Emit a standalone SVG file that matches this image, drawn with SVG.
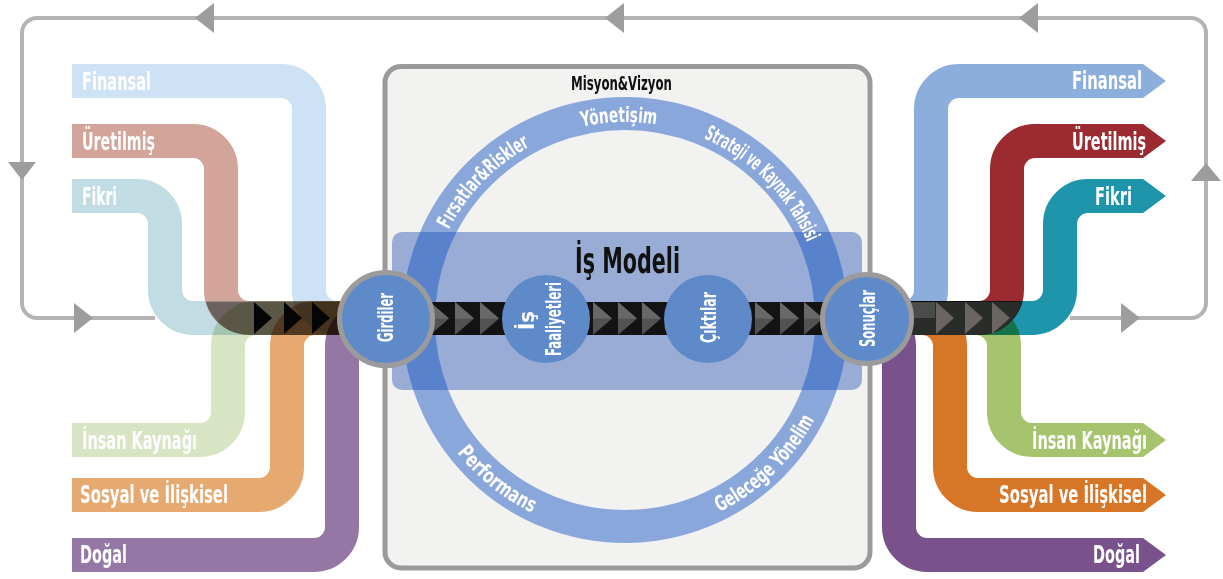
<svg xmlns="http://www.w3.org/2000/svg" xmlns:xlink="http://www.w3.org/1999/xlink" width="1223" height="579" viewBox="0 0 1223 579">
  <style>
    text { font-family: 'Liberation Sans Narrow', 'DejaVu Sans Condensed', 'Liberation Sans', sans-serif; font-weight: bold; }
    .lbl { fill: #ffffff; font-size: 25px; }
    .end { text-anchor: end; }
    .band { fill: none; stroke-width: 34; }
    .mult { mix-blend-mode: multiply; }
    .loop { fill: none; stroke: #b4b4b4; stroke-width: 4; }
    .head { fill: #9d9d9d; }
    .ringtxt { fill: #ffffff; font-size: 21px; text-anchor: middle; }
    .node { fill: #5e8ac9; }
    .ringed { stroke: #9b9b9b; stroke-width: 5; }
    .ntxt { fill: #ffffff; font-size: 22px; text-anchor: middle; }
    .dark { fill: #111111; text-anchor: middle; }
  </style>
  <defs>
    <!-- baselines for the lettering on the big ring -->
    <path id="arcTop" d="M427,320 A198,198 0 0 1 823,320"/>
    <path id="arcBot" d="M411,320 A214,214 0 0 0 839,320"/>
    <!-- flow chevrons -->
    <g id="chevGray">
      <polygon points="0,0 19,16.5 0,33" fill="#525252"/>
      <polygon points="0,0 19,16.5 0,16.5" fill="#686868"/>
    </g>
    <polygon id="chevBlack" points="0,0 18,16 0,32" fill="#050505"/>
    <polygon id="chevOut" points="0,0 18,16 0,32" fill="#6a6560"/>
  </defs>

  <rect width="1223" height="579" fill="#ffffff"/>

  <!-- feedback loop from outcomes back to inputs -->
  <g id="connectors">
    <path class="loop" d="M1070,318 H1191 A15,15 0 0 0 1206,303 V33 A15,15 0 0 0 1191,18 H37 A15,15 0 0 0 22,33 V303 A15,15 0 0 0 37,318 H155"/>
    <polygon class="head" points="195,18 214,3 214,33"/>
    <polygon class="head" points="605,18 624,3 624,33"/>
    <polygon class="head" points="1019,18 1038,3 1038,33"/>
    <polygon class="head" points="22,180 8,162 36,162"/>
    <polygon class="head" points="93,318 74,303 74,333"/>
    <polygon class="head" points="1206,163 1191,181 1221,181"/>
    <polygon class="head" points="1140,318 1121,303 1121,333"/>
  </g>

  <!-- input capitals -->
  <g id="in-finansal">
    <path class="band mult" stroke="#cde2f5" d="M72,81 H281 A28,28 0 0 1 309,109 V290 A28,28 0 0 0 337,318 H352"/>
    <text class="lbl" x="82" y="89.5" textLength="69" lengthAdjust="spacingAndGlyphs">Finansal</text>
  </g>
  <g id="in-uretilmis">
    <path class="band mult" stroke="#d3a59a" d="M72,141 H193 A28,28 0 0 1 221,169 V290 A28,28 0 0 0 249,318 H352"/>
    <text class="lbl" x="82" y="150" textLength="73" lengthAdjust="spacingAndGlyphs">Üretilmiş</text>
  </g>
  <g id="in-fikri">
    <path class="band mult" stroke="#c1dde3" d="M72,196 H137 A28,28 0 0 1 165,224 V290 A28,28 0 0 0 193,318 H352"/>
    <text class="lbl" x="82" y="205" textLength="35" lengthAdjust="spacingAndGlyphs">Fikri</text>
  </g>
  <g id="in-insan">
    <path class="band mult" stroke="#d8e5c4" d="M72,440 H200 A28,28 0 0 0 228,412 V346 A28,28 0 0 1 256,318 H352"/>
    <text class="lbl" x="82" y="448.5" textLength="115" lengthAdjust="spacingAndGlyphs">İnsan Kaynağı</text>
  </g>
  <g id="in-sosyal">
    <path class="band mult" stroke="#e6a970" d="M72,495 H259 A28,28 0 0 0 287,467 V346 A28,28 0 0 1 315,318 H352"/>
    <text class="lbl" x="80" y="503" textLength="148" lengthAdjust="spacingAndGlyphs">Sosyal ve İlişkisel</text>
  </g>
  <g id="in-dogal">
    <path class="band mult" stroke="#9577a5" d="M72,555 H314 A28,28 0 0 0 342,527 V346 A28,28 0 0 1 370,318 H380"/>
    <text class="lbl" x="80" y="563" textLength="47" lengthAdjust="spacingAndGlyphs">Doğal</text>
  </g>

  <!-- merged input stream -->
  <g id="input-stream">
    <path d="M206,302 H352 V335 H249 A45,45 0 0 1 206,302 Z" fill="#000000" fill-opacity="0.32"/>
    <use xlink:href="#chevBlack" x="254" y="302"/>
    <use xlink:href="#chevBlack" x="284" y="302"/>
    <use xlink:href="#chevBlack" x="312" y="302"/>
  </g>

  <!-- mission and vision frame -->
  <g id="mission-vision">
    <rect x="385" y="66.5" width="485" height="501.5" rx="16" fill="#f2f2f0" stroke="#9a9a9a" stroke-width="5"/>
    <text class="dark" x="621.5" y="90" font-size="19" textLength="101" lengthAdjust="spacingAndGlyphs">Misyon&amp;Vizyon</text>
  </g>

  <!-- business model panel -->
  <g id="business-model">
    <rect x="392" y="232" width="470" height="158" rx="10" fill="rgb(62,102,186)" fill-opacity="0.5"/>
  </g>

  <!-- governance ring -->
  <g id="ring">
    <circle cx="625" cy="320" r="206.5" fill="none" stroke="rgb(19,83,193)" stroke-opacity="0.47" stroke-width="33"/>
    <text class="ringtxt"><textPath xlink:href="#arcTop" startOffset="152.7" textLength="118" lengthAdjust="spacingAndGlyphs">Fırsatlar&amp;Riskler</textPath></text>
    <text class="ringtxt"><textPath xlink:href="#arcTop" startOffset="305" textLength="75" lengthAdjust="spacingAndGlyphs">Yönetişim</textPath></text>
    <text class="ringtxt" font-size="16"><textPath xlink:href="#arcTop" startOffset="467" textLength="150" lengthAdjust="spacingAndGlyphs">Strateji ve Kaynak Tahsisi</textPath></text>
    <text class="ringtxt"><textPath xlink:href="#arcBot" startOffset="191.4" textLength="97" lengthAdjust="spacingAndGlyphs">Performans</textPath></text>
    <text class="ringtxt"><textPath xlink:href="#arcBot" startOffset="501" textLength="135" lengthAdjust="spacingAndGlyphs">Geleceğe Yönelim</textPath></text>
  </g>

  <text class="dark" x="627.5" y="273" font-size="36" textLength="105" lengthAdjust="spacingAndGlyphs">İş Modeli</text>

  <!-- value creation stream -->
  <g id="value-stream">
    <rect x="420" y="302" width="420" height="33" fill="#131313"/>
    <use xlink:href="#chevGray" x="430" y="302"/>
    <use xlink:href="#chevGray" x="455" y="302"/>
    <use xlink:href="#chevGray" x="480" y="302"/>
    <use xlink:href="#chevGray" x="593" y="302"/>
    <use xlink:href="#chevGray" x="618" y="302"/>
    <use xlink:href="#chevGray" x="642" y="302"/>
    <use xlink:href="#chevGray" x="755" y="302"/>
    <use xlink:href="#chevGray" x="780" y="302"/>
    <use xlink:href="#chevGray" x="804" y="302"/>
  </g>

  <!-- output capitals -->
  <g id="out-finansal">
    <g class="mult" fill="#8caedd">
      <path class="band" stroke="#8caedd" d="M880,318 H903 A28,28 0 0 0 931,290 V109 A28,28 0 0 1 959,81 H1143"/>
      <polygon points="1143,64 1166,81 1143,98"/>
    </g>
    <text class="lbl end" x="1142" y="89" textLength="70" lengthAdjust="spacingAndGlyphs">Finansal</text>
  </g>
  <g id="out-uretilmis">
    <g class="mult" fill="#9b2a31">
      <path class="band" stroke="#9b2a31" d="M880,318 H979 A28,28 0 0 0 1007,290 V169 A28,28 0 0 1 1035,141 H1143"/>
      <polygon points="1143,124 1166,141 1143,158"/>
    </g>
    <text class="lbl end" x="1146" y="150" textLength="74" lengthAdjust="spacingAndGlyphs">Üretilmiş</text>
  </g>
  <g id="out-fikri">
    <g class="mult" fill="#1e95ab">
      <path class="band" stroke="#1e95ab" d="M880,318 H1032 A28,28 0 0 0 1060,290 V224 A28,28 0 0 1 1088,196 H1143"/>
      <polygon points="1143,179 1166,196 1143,213"/>
    </g>
    <text class="lbl end" x="1132" y="205" textLength="37" lengthAdjust="spacingAndGlyphs">Fikri</text>
  </g>
  <g id="out-insan">
    <g class="mult" fill="#a6c46e">
      <path class="band" stroke="#a6c46e" d="M880,318 H976 A28,28 0 0 1 1004,346 V412 A28,28 0 0 0 1032,440 H1143"/>
      <polygon points="1143,423 1166,440 1143,457"/>
    </g>
    <text class="lbl end" x="1147" y="449" textLength="115" lengthAdjust="spacingAndGlyphs">İnsan Kaynağı</text>
  </g>
  <g id="out-sosyal">
    <g class="mult" fill="#d87627">
      <path class="band" stroke="#d87627" d="M880,318 H922 A28,28 0 0 1 950,346 V467 A28,28 0 0 0 978,495 H1143"/>
      <polygon points="1143,478 1166,495 1143,512"/>
    </g>
    <text class="lbl end" x="1147" y="503" textLength="148" lengthAdjust="spacingAndGlyphs">Sosyal ve İlişkisel</text>
  </g>
  <g id="out-dogal">
    <g class="mult" fill="#7a528b">
      <path class="band" stroke="#7a528b" d="M860,318 H871 A28,28 0 0 1 899,346 V527 A28,28 0 0 0 927,555 H1143"/>
      <polygon points="1143,538 1166,555 1143,572"/>
    </g>
    <text class="lbl end" x="1140" y="563" textLength="47" lengthAdjust="spacingAndGlyphs">Doğal</text>
  </g>

  <!-- merged output stream -->
  <g id="output-stream">
    <path d="M880,302 H1022 A45,45 0 0 1 979,335 H880 Z" fill="#292c28"/>
    <rect x="905" y="302" width="30" height="16" fill="#4a4c4a"/>
    <use xlink:href="#chevOut" x="936" y="302"/>
    <use xlink:href="#chevOut" x="965" y="302"/>
    <use xlink:href="#chevOut" x="992" y="302"/>
  </g>

  <!-- process nodes -->
  <g id="node-girdiler">
    <circle class="node ringed" cx="386" cy="319" r="46.5"/>
    <text class="ntxt" transform="translate(386,319) rotate(-90)" x="1.5" y="7" textLength="49" lengthAdjust="spacingAndGlyphs">Girdiler</text>
  </g>
  <g id="node-is-faaliyetleri">
    <circle class="node" cx="546" cy="319" r="44"/>
    <text class="ntxt" transform="translate(546,319) rotate(-90)">
      <tspan x="2" y="-12" textLength="19" lengthAdjust="spacingAndGlyphs">İş</tspan>
      <tspan x="0" y="15" textLength="74" lengthAdjust="spacingAndGlyphs">Faaliyetleri</tspan>
    </text>
  </g>
  <g id="node-ciktilar">
    <circle class="node" cx="708" cy="319" r="44"/>
    <text class="ntxt" transform="translate(708,319) rotate(-90)" x="1.5" y="8" textLength="51" lengthAdjust="spacingAndGlyphs">Çıktılar</text>
  </g>
  <g id="node-sonuclar">
    <circle class="node ringed" cx="867" cy="319" r="44.5"/>
    <text class="ntxt" transform="translate(867,319) rotate(-90)" x="0.5" y="8" textLength="57" lengthAdjust="spacingAndGlyphs">Sonuçlar</text>
  </g>
</svg>
